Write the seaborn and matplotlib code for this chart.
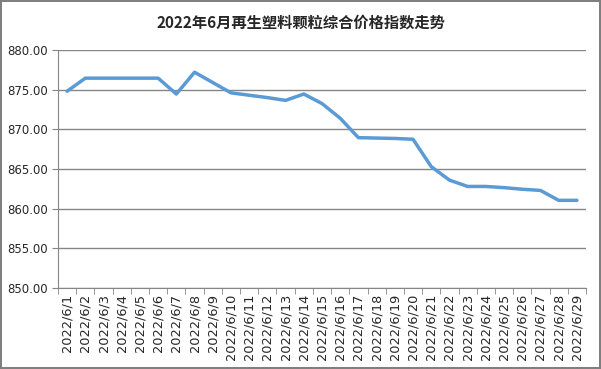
import matplotlib
matplotlib.use('Agg')
import matplotlib.pyplot as plt
import pandas as pd
import seaborn as sns
from matplotlib.ticker import FixedLocator, FormatStrFormatter

# data
dates = ['2022/6/%d' % d for d in range(1, 30)]
index = [874.8, 876.45, 876.45, 876.45, 876.45, 876.45, 874.45, 877.2, 875.9, 874.6,
         874.3, 874.0, 873.65, 874.45, 873.25, 871.4, 868.95, 868.9, 868.85, 868.75,
         865.3, 863.6, 862.8, 862.8, 862.65, 862.45, 862.3, 861.05, 861.05]

df = pd.DataFrame({'date': dates, 'index': index})

sns.set_style('white')
plt.rcParams['font.family'] = ['DejaVu Sans']

fig = plt.figure(figsize=(6.01, 3.69), dpi=100)
fig.patch.set_edgecolor('#7f7f7f')
fig.patch.set_linewidth(1.5)
ax = fig.add_axes([0.0965, 0.2195, 0.8785, 0.645])

sns.lineplot(x='date', y='index', data=df, sort=False, color='#5B9BD5',
             linewidth=2.5, ax=ax)

ax.set_xlim(-0.5, len(dates) - 0.5)
ax.set_ylim(850, 880)
ax.set_yticks([850, 855, 860, 865, 870, 875, 880])
ax.yaxis.set_major_formatter(FormatStrFormatter('%.2f'))
ax.grid(axis='y', color='#868686', linewidth=1)
ax.set_axisbelow(True)
ax.set_xlabel('')
ax.set_ylabel('')

ax.set_xticks(range(len(dates)))
ax.set_xticklabels(dates, rotation=90, fontsize=9.3)
ax.tick_params(axis='x', which='major', length=0, pad=4)
ax.xaxis.set_minor_locator(FixedLocator([i - 0.5 for i in range(len(dates) + 1)]))
ax.tick_params(axis='x', which='minor', length=4, color='#868686', bottom=True)
ax.tick_params(axis='y', labelsize=8.5, length=4, color='#868686', left=True)

for s in ['top', 'right']:
    ax.spines[s].set_visible(False)
for s in ['left', 'bottom']:
    ax.spines[s].set_color('#868686')

fig.text(0.5, 0.94, '2022年6月再生塑料颗粒综合价格指数走势', ha='center', va='center',
         fontsize=11, fontweight='bold', family=['Noto Sans CJK SC', 'DejaVu Sans'])

plt.savefig('out.png', dpi=100)
